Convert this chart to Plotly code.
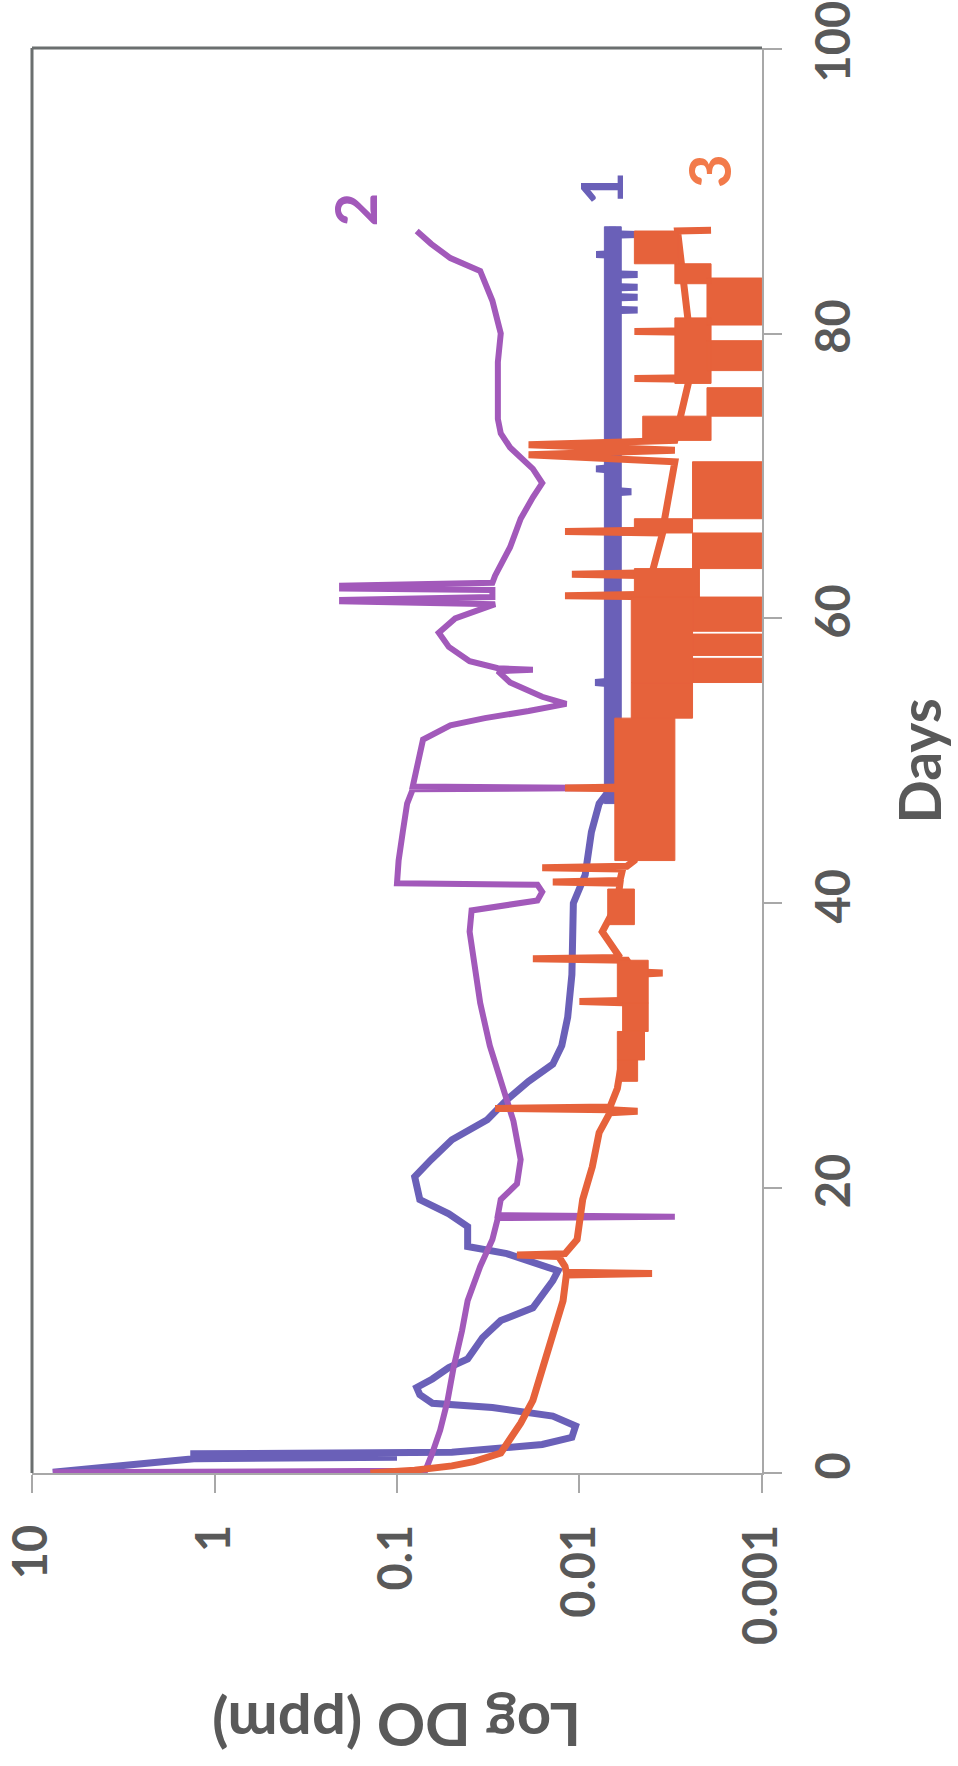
import math
import plotly.graph_objects as go

# ---- Series 1 (blue): dissolved oxygen (ppm) vs time (days)
s1_day = [0.05, 0.6, 1.0, 1.1, 1.2, 1.35, 1.45, 2.0, 2.5, 3.3, 4.0, 4.6, 4.9, 5.5, 6.0,
          6.6, 7.4, 8.0, 9.5, 10.7, 11.6, 13.5, 14.2, 15.4, 15.9, 17.3, 18.2, 19.2, 20.8,
          22.0, 23.4, 24.8, 26.2, 27.5, 28.7, 30, 32, 35, 40, 42, 45, 47,
          48.2, 55.4, 55.5, 55.6, 66.0, 66.1, 66.2, 68.8, 68.9, 69.0, 70.4, 70.5, 70.6,
          81.6, 81.65, 81.7, 82.5, 82.55, 82.6, 83.2, 83.25, 83.3, 84.1, 84.15, 84.2,
          85.5, 85.55, 85.6, 86.9, 86.95, 87.0, 87.5]
s1_do = [7.7, 2.5, 1.3, 0.1, 1.3, 1.3, 0.05, 0.016, 0.011, 0.0105, 0.014, 0.03, 0.064, 0.075, 0.078,
         0.064, 0.052, 0.041, 0.034, 0.027, 0.018, 0.014, 0.0131, 0.025, 0.041, 0.041, 0.052, 0.075, 0.080,
         0.065, 0.050, 0.032, 0.025, 0.019, 0.014, 0.0125, 0.0116, 0.011, 0.0108, 0.0093, 0.0086, 0.0078,
         0.0066, 0.0066, 0.0082, 0.0066, 0.0066, 0.0052, 0.0066, 0.0066, 0.0052, 0.0066, 0.0066, 0.0081, 0.0066,
         0.0066, 0.0048, 0.0066, 0.0066, 0.0048, 0.0066, 0.0066, 0.0048, 0.0066, 0.0066, 0.0048, 0.0066,
         0.0066, 0.0081, 0.0066, 0.0066, 0.0048, 0.0066, 0.0066]
# dense noisy stretch of series 1: [day start, day end, DO low, DO high]
s1_band_day0 = [47.0]
s1_band_day1 = [87.5]
s1_band_lo = [0.0059]
s1_band_hi = [0.0073]

# ---- Series 2 (purple)
s2_day = [0.05, 0.15, 1.4, 3, 5, 7.4, 10, 12.1, 14.5, 16.4, 17.9, 18.0, 18.1, 19.2, 20.3, 22, 24.7,
          27, 30, 33, 35, 38, 39.5, 40.2, 40.8, 41.3, 41.4, 43, 45, 47, 48.0, 48.1, 48.2, 50,
          51.5, 52.5, 53, 53.5, 54, 54.5, 55.5, 56.3, 56.4, 56.5, 57, 58, 59, 60, 60.5, 61,
          61.2, 61.3, 61.5, 62, 62.1, 62.3, 62.5, 63, 65, 67, 68.5, 69.5, 70.5, 72, 73, 74,
          76, 78, 80, 82.3, 84.4, 85.3, 86.3, 87.2]
s2_do = [7.7, 0.07, 0.064, 0.058, 0.053, 0.049, 0.044, 0.041, 0.035, 0.030, 0.028, 0.0030, 0.028, 0.027,
         0.022, 0.021, 0.023, 0.026, 0.031, 0.035, 0.037, 0.040, 0.039, 0.017, 0.016, 0.017, 0.10,
         0.098, 0.093, 0.088, 0.082, 0.0068, 0.082, 0.077, 0.072, 0.051, 0.033, 0.019, 0.0118, 0.016,
         0.024, 0.028, 0.018, 0.028, 0.040, 0.052, 0.059, 0.048, 0.037, 0.029, 0.2, 0.2, 0.03, 0.03,
         0.2, 0.2, 0.03, 0.029, 0.024, 0.021, 0.018, 0.016, 0.018, 0.024, 0.027, 0.028, 0.028, 0.028,
         0.027, 0.030, 0.035, 0.051, 0.065, 0.078]

# ---- Series 3 (orange)
s3_day = [0.0, 0.2, 0.5, 0.8, 1.4, 2.3, 3.5, 5.1, 7.4, 9.8, 12.1, 13.9, 14.0, 14.1, 14.5, 15.2,
          15.3, 15.4, 16.4, 19.2, 21.5, 23.9, 25.3, 25.4, 25.5, 25.6, 25.7, 27, 29, 31, 33, 33.1,
          33.2, 35, 35.1, 35.2, 36, 36.1, 36.2, 38, 40, 41.4, 41.5, 41.6, 42.4, 42.5, 42.6, 43,
          48, 48.1, 48.2, 53, 55.5, 61.5, 61.6, 61.7, 63, 63.1, 63.2, 66, 66.1, 66.2, 71, 71.5,
          71.8, 72.2, 72.5, 76.8, 76.85, 76.9, 80.1, 80.15, 80.2, 87.2, 87.25]
s3_do = [0.14, 0.08, 0.05, 0.038, 0.027, 0.024, 0.021, 0.018, 0.016, 0.014, 0.0123, 0.0118, 0.0040,
         0.0118, 0.012, 0.013, 0.022, 0.012, 0.0103, 0.0096, 0.0085, 0.0078, 0.0068, 0.0048, 0.0068,
         0.029, 0.0068, 0.0062, 0.0058, 0.0055, 0.0052, 0.010, 0.0052, 0.0050, 0.0035, 0.0050, 0.0055,
         0.018, 0.0060, 0.0075, 0.0062, 0.006, 0.014, 0.006, 0.0058, 0.016, 0.0055, 0.005,
         0.004, 0.012, 0.004, 0.004, 0.003, 0.003, 0.012, 0.004, 0.004, 0.011, 0.004, 0.0035, 0.012,
         0.0035, 0.003, 0.019, 0.003, 0.019, 0.003, 0.0025, 0.005, 0.0025, 0.0025, 0.005, 0.0025,
         0.0029, 0.0019]
s3_band_day0 = [27.5, 29.0, 31.0, 33.0, 38.5, 43.0, 53.0, 55.5, 57.4, 59.1, 55.5, 61.5, 63.5, 66.0,
                67.0, 72.5, 74.2, 76.5, 77.4, 80.6, 83.5, 84.9]
s3_band_day1 = [29.0, 31.0, 33.0, 36.0, 41.0, 53.0, 55.5, 57.2, 58.9, 61.5, 61.5, 63.5, 66.0, 67.0,
                71.0, 74.2, 76.2, 81.1, 79.5, 83.9, 84.9, 87.2]
s3_band_lo = [0.0048, 0.0044, 0.0042, 0.0042, 0.0050, 0.0030, 0.0024, 0.0010, 0.0010, 0.0010, 0.0024,
              0.0022, 0.0010, 0.0024, 0.0010, 0.0019, 0.0010, 0.0019, 0.0010, 0.0010, 0.0019, 0.0029]
s3_band_hi = [0.0062, 0.0062, 0.0058, 0.0062, 0.0070, 0.0064, 0.0052, 0.0024, 0.0024, 0.0024, 0.0052,
              0.0050, 0.0024, 0.0050, 0.0024, 0.0045, 0.0020, 0.0030, 0.0020, 0.0020, 0.0030, 0.0050]

do_ticks = [10, 1, 0.1, 0.01, 0.001]
do_tick_text = ["10", "1", "0.1", "0.01", "0.001"]
day_ticks = [0, 20, 40, 60, 80, 100]

BLUE = "#6A60B8"
PURPLE = "#A259BA"
ORANGE = "#E6623B"
TEXT = "#595959"


def band_trace(d0, d1, lo, hi, color):
    xs, ys = [], []
    for a, b, l, h in zip(d0, d1, lo, hi):
        xs += [l, h, h, l, l, None]
        ys += [a, a, b, b, a, None]
    return go.Scatter(x=xs, y=ys, mode="lines", fill="toself", fillcolor=color,
                      line=dict(color=color, width=1), hoverinfo="skip")


fig = go.Figure()
fig.add_trace(go.Scatter(x=s1_do, y=s1_day, mode="lines",
                         line=dict(color=BLUE, width=7), hoverinfo="skip"))
fig.add_trace(band_trace(s1_band_day0, s1_band_day1, s1_band_lo, s1_band_hi, BLUE))
fig.add_trace(go.Scatter(x=s2_do, y=s2_day, mode="lines",
                         line=dict(color=PURPLE, width=6), hoverinfo="skip"))
fig.add_trace(go.Scatter(x=s3_do, y=s3_day, mode="lines",
                         line=dict(color=ORANGE, width=7), hoverinfo="skip"))
fig.add_trace(band_trace(s3_band_day0, s3_band_day1, s3_band_lo, s3_band_hi, ORANGE))

tick_font = dict(family="Lato", size=47, color=TEXT, weight="bold")
days_font = dict(family="Lato", size=57, color=TEXT, weight="bold")
do_title_font = dict(family="Lato", size=60, color=TEXT, weight="bold")

fig.update_layout(
    width=958, height=1766,
    margin=dict(l=32, r=196, t=48, b=293, autoexpand=False),
    paper_bgcolor="white", plot_bgcolor="white",
    showlegend=False,
    xaxis=dict(type="log", range=[1.0005, -3.0005], tickvals=do_ticks, ticktext=do_tick_text,
               tickangle=-90, tickfont=tick_font, ticks="outside", ticklen=18,
               tickcolor="#a8a8a8", tickwidth=2, showline=True, linecolor="#a8a8a8",
               linewidth=2, showgrid=False, zeroline=False, ticklabelstandoff=13,
               ticklabeloverflow="allow", automargin=False),
    yaxis=dict(range=[0, 100.05], side="right", tickvals=day_ticks, tickangle=-90,
               tickfont=tick_font, ticks="outside", ticklen=18, tickcolor="#a8a8a8",
               tickwidth=2, showline=True, linecolor="#a8a8a8", linewidth=2,
               showgrid=False, zeroline=False, ticklabelstandoff=12,
               ticklabeloverflow="allow", automargin=False),
    shapes=[
        dict(type="line", xref="x domain", yref="y domain", x0=0, x1=1, y0=1, y1=1,
             line=dict(color="#6b6f6f", width=3)),
        dict(type="line", xref="x domain", yref="y domain", x0=0, x1=0, y0=0, y1=1,
             line=dict(color="#6b6f6f", width=3)),
    ],
    annotations=[
        dict(text="Days", xref="paper", yref="paper", x=1.215, y=0.5, showarrow=False,
             textangle=-90, font=days_font, xanchor="center", yanchor="middle"),
        dict(text="Log DO (ppm)", xref="paper", yref="paper", x=0.4986, y=-0.178,
             showarrow=False, textangle=180, font=do_title_font,
             xanchor="center", yanchor="middle"),
        dict(text="1", xref="x", yref="y", x=math.log10(0.0077), y=90.2, showarrow=False,
             textangle=-90, font=dict(family="Lato", size=58, color=BLUE, weight="bold")),
        dict(text="2", xref="x", yref="y", x=math.log10(0.17), y=88.7, showarrow=False,
             textangle=-90, font=dict(family="Lato", size=58, color=PURPLE, weight="bold")),
        dict(text="3", xref="x", yref="y", x=math.log10(0.00198), y=91.4, showarrow=False,
             textangle=-90, font=dict(family="Lato", size=58, color="#F27A4A", weight="bold")),
    ],
)

fig.write_html("out.html")
